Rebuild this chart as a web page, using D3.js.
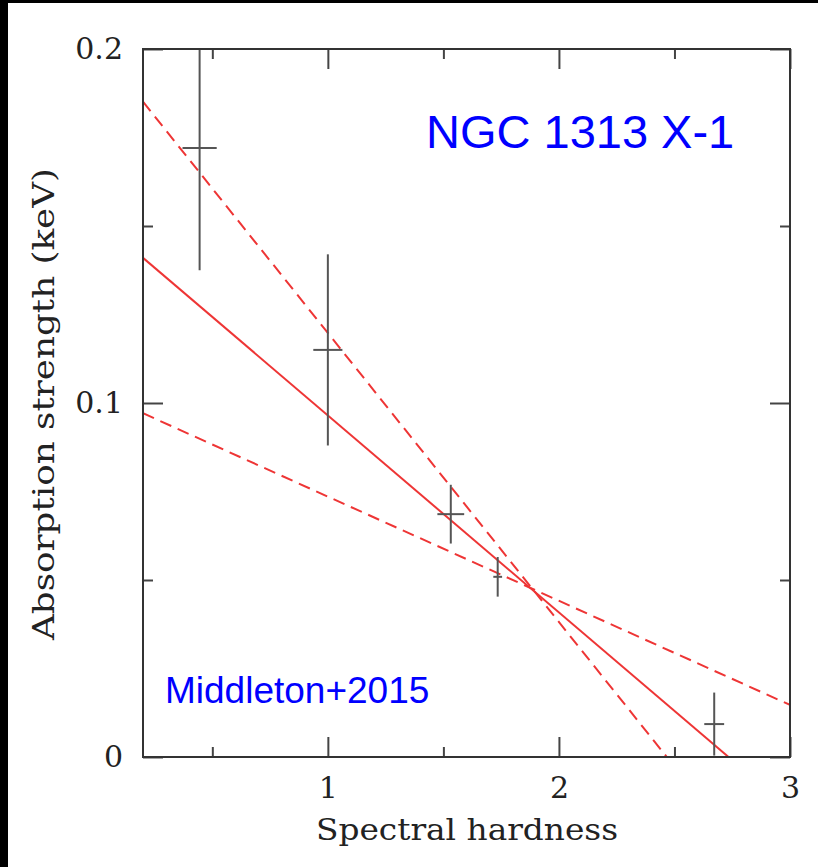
<!DOCTYPE html>
<html>
<head>
<meta charset="utf-8">
<script src="https://cdn.jsdelivr.net/npm/d3@7"></script>
<style>
  html, body { margin: 0; padding: 0; background: #000; }
  svg { display: block; }
</style>
</head>
<body>
<div id="chart"></div>
<script>
// data (x = spectral hardness, y = absorption strength in keV)
const pointX    = [0.445, 1.0,   1.532, 1.735, 2.672];
const pointY    = [0.172, 0.115, 0.0686, 0.0509, 0.0093];
const pointXErr = [0.074, 0.063, 0.058, 0.019, 0.043];
const pointYErr = [0.0345, 0.027, 0.0083, 0.0056, 0.0089];

// fitted lines as [x0, y0, x1, y1]
const fitBest    = [0.2, 0.141, 2.734, 0.0];
const fitSteep   = [0.2, 0.1851, 2.467, 0.0];
const fitShallow = [0.2, 0.0971, 3.0, 0.0147];

const xMajor = [1, 2, 3];
const xMinor = [0.5, 1.5, 2.5];
const yMajor = [0, 0.1, 0.2];
const yMinor = [0.05, 0.15];

const WIDTH = 818, HEIGHT = 867;
const margin = {left: 143, top: 49, right: 28, bottom: 110};

const svg = d3.select("#chart").append("svg")
    .attr("width", WIDTH).attr("height", HEIGHT);

svg.append("rect")
    .attr("x", 8).attr("y", 3)
    .attr("width", WIDTH - 8).attr("height", HEIGHT - 3)
    .attr("fill", "#fff");

const x = d3.scaleLinear().domain([0.2, 3]).range([margin.left, WIDTH - margin.right]);
const y = d3.scaleLinear().domain([0, 0.2]).range([HEIGHT - margin.bottom, margin.top]);

svg.append("clipPath").attr("id", "plot-clip")
  .append("rect")
    .attr("x", x.range()[0]).attr("y", y.range()[1])
    .attr("width", x.range()[1] - x.range()[0])
    .attr("height", y.range()[0] - y.range()[1]);

const tickColor = "#444";
const labelFont = "'DejaVu Serif', 'Liberation Serif', serif";

function styleAxis(g) {
    g.select(".domain").remove();
    g.selectAll(".tick line").attr("stroke", tickColor).attr("stroke-width", 2);
    g.selectAll(".tick text")
        .attr("fill", "#222")
        .style("font-family", labelFont)
        .style("font-size", "30px");
}

// bottom: labelled majors + minors
svg.append("g")
    .attr("transform", `translate(0,${y(0)})`)
    .call(d3.axisBottom(x).tickValues(xMajor).tickSize(-20).tickPadding(20).tickFormat(d3.format("d")))
    .call(styleAxis);
svg.append("g")
    .attr("transform", `translate(0,${y(0)})`)
    .call(d3.axisBottom(x).tickValues(xMinor).tickSize(-10).tickFormat(""))
    .call(styleAxis);

// top: ticks only
svg.append("g")
    .attr("transform", `translate(0,${y(0.2)})`)
    .call(d3.axisTop(x).tickValues(xMajor).tickSize(-20).tickFormat(""))
    .call(styleAxis);
svg.append("g")
    .attr("transform", `translate(0,${y(0.2)})`)
    .call(d3.axisTop(x).tickValues(xMinor).tickSize(-10).tickFormat(""))
    .call(styleAxis);

// left: labelled majors + minors
svg.append("g")
    .attr("transform", `translate(${x(0.2)},0)`)
    .call(d3.axisLeft(y).tickValues(yMajor).tickSize(-20).tickPadding(20)
        .tickFormat(d => d === 0 ? "0" : d3.format(".1f")(d)))
    .call(styleAxis);
svg.append("g")
    .attr("transform", `translate(${x(0.2)},0)`)
    .call(d3.axisLeft(y).tickValues(yMinor).tickSize(-10).tickFormat(""))
    .call(styleAxis);

// right: ticks only
svg.append("g")
    .attr("transform", `translate(${x(3)},0)`)
    .call(d3.axisRight(y).tickValues(yMajor).tickSize(-20).tickFormat(""))
    .call(styleAxis);
svg.append("g")
    .attr("transform", `translate(${x(3)},0)`)
    .call(d3.axisRight(y).tickValues(yMinor).tickSize(-10).tickFormat(""))
    .call(styleAxis);

const plot = svg.append("g").attr("clip-path", "url(#plot-clip)");

// fit lines
const fits = [
    {v: fitBest, dash: null},
    {v: fitSteep, dash: "12,7"},
    {v: fitShallow, dash: "12,7"}
];
plot.selectAll(".fit")
    .data(fits)
    .enter().append("line")
    .attr("class", "fit")
    .attr("x1", d => x(d.v[0])).attr("y1", d => y(d.v[1]))
    .attr("x2", d => x(d.v[2])).attr("y2", d => y(d.v[3]))
    .attr("stroke", "#ee3535")
    .attr("stroke-width", 2)
    .attr("stroke-dasharray", d => d.dash);

// crosses with error bars
const points = pointX.map((px, i) => ({x: px, y: pointY[i], xe: pointXErr[i], ye: pointYErr[i]}));
const cross = plot.selectAll(".pt")
    .data(points)
    .enter().append("g")
    .attr("class", "pt");
cross.append("line")
    .attr("x1", d => x(d.x)).attr("x2", d => x(d.x))
    .attr("y1", d => y(d.y - d.ye)).attr("y2", d => y(d.y + d.ye))
    .attr("stroke", "#555").attr("stroke-width", 2);
cross.append("line")
    .attr("x1", d => x(d.x - d.xe)).attr("x2", d => x(d.x + d.xe))
    .attr("y1", d => y(d.y)).attr("y2", d => y(d.y))
    .attr("stroke", "#555").attr("stroke-width", 2);

// frame
svg.append("rect")
    .attr("x", x(0.2)).attr("y", y(0.2))
    .attr("width", x(3) - x(0.2)).attr("height", y(0) - y(0.2))
    .attr("fill", "none")
    .attr("stroke", "#333")
    .attr("stroke-width", 2);

// axis titles
svg.append("text")
    .attr("x", 316).attr("y", 840)
    .attr("textLength", 302).attr("lengthAdjust", "spacingAndGlyphs")
    .style("font-family", labelFont).style("font-size", "30px")
    .attr("fill", "#222")
    .text("Spectral hardness");

svg.append("text")
    .attr("transform", "translate(54,404) rotate(-90)")
    .attr("text-anchor", "middle")
    .attr("textLength", 472).attr("lengthAdjust", "spacingAndGlyphs")
    .style("font-family", labelFont).style("font-size", "30px")
    .attr("fill", "#222")
    .text("Absorption strength (keV)");

// annotations
svg.append("text")
    .attr("x", 426).attr("y", 148)
    .style("font-family", "'Liberation Sans', Arial, sans-serif").style("font-size", "47px")
    .attr("fill", "#0000ff")
    .text("NGC 1313 X-1");

svg.append("text")
    .attr("x", 165).attr("y", 703)
    .style("font-family", "'Liberation Sans', Arial, sans-serif").style("font-size", "37px")
    .attr("fill", "#0000ff")
    .text("Middleton+2015");
</script>
</body>
</html>
